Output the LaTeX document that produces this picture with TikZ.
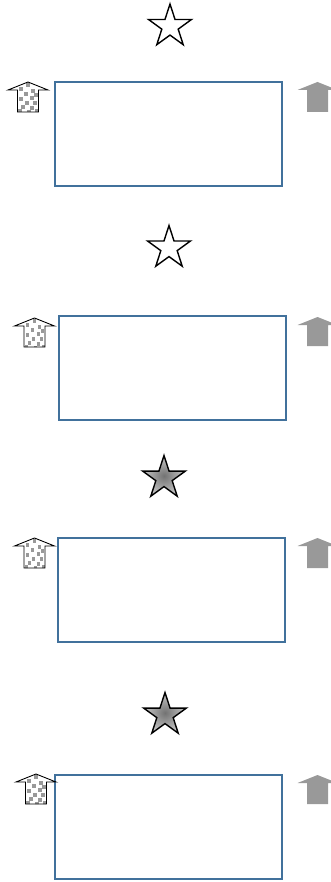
\documentclass[tikz,border=0pt]{standalone}
\usetikzlibrary{shapes.geometric}
\definecolor{frameblue}{HTML}{41719C}
\definecolor{arrowgray}{HTML}{999999}

\tikzset{
  panel/.style={draw=frameblue, line width=2pt, minimum width=227pt, minimum height=104pt, inner sep=0pt},
  starbase/.style={star, star points=5, star point ratio=2.618, draw=black, line width=1.4pt, minimum size=45pt, inner sep=0pt},
  openstar/.style={starbase, fill=white},
  shadedstar/.style={starbase, shading=radial, inner color=black!55, outer color=black!22},
  pics/dotarrow/.style={code={
    \begin{scope}
      \clip (0,0) -- (20,8) -- (10.5,8) -- (10.5,#1) -- (-10.5,#1) -- (-10.5,8) -- (-20,8) -- cycle;
      \foreach \u/\v in {0/3, -7/7, 5/9, -2/12, 8/13, -7/17, 4/16, -1/21, 7/21, -5/25, 4/26, -8/29, 1/30, 9/29}
        \fill[arrowgray] (\u-1.8,\v-1.8) rectangle ++(3.6,3.6);
    \end{scope}
    \draw[line width=0.9pt] (0,0) -- (20,8) -- (10.5,8) -- (10.5,#1) -- (-10.5,#1) -- (-10.5,8) -- (-20,8) -- cycle;
  }},
  pics/grayarrow/.style={code={
    \fill[arrowgray] (0,0) -- (20,8) -- (10.5,8) -- (10.5,#1) -- (-10.5,#1) -- (-10.5,8) -- (-20,8) -- cycle;
  }}
}

\begin{document}
\begin{tikzpicture}[x=1pt, y=-1pt]
    \useasboundingbox (0,0) rectangle (330,882);
    % Stars
    \foreach \i/\x/\y/\s in {1/170/26.5/openstar, 2/169/248/openstar, 3/164/478/shadedstar, 4/165/715/shadedstar}
      \node[\s] (star\i) at (\x,\y) {};
    % Frames
    \foreach \i/\x/\y in {1/168.5/134, 2/172/368, 3/171.5/590, 4/168.5/826.5}
      \node[panel] (panel\i) at (\x,\y) {};
    % Patterned arrows (left)
    \foreach \i/\x/\t/\h in {1/28/82/30, 2/34.5/318/29, 3/34.5/538/30, 4/36/774/30}
      \pic (left\i) at (\x,\t) {dotarrow=\h};
    % Gray arrows (right)
    \foreach \i/\t/\h in {1/82/30, 2/317/29, 3/538/30, 4/775/29}
      \pic (right\i) at (317.5,\t) {grayarrow=\h};
\end{tikzpicture}
\end{document}
